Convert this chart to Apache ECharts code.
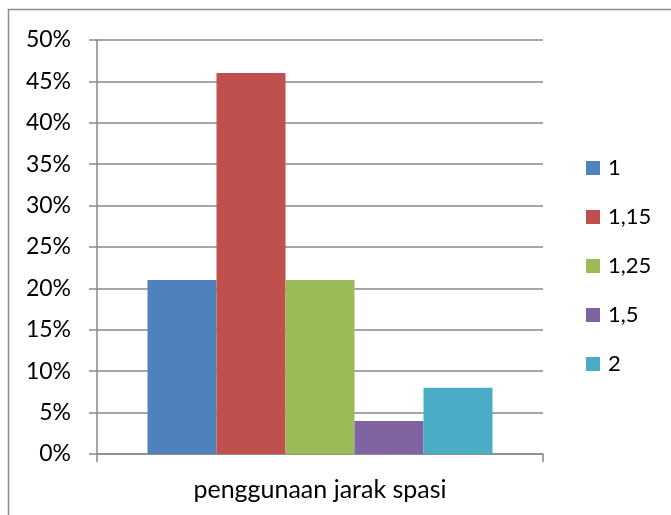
<!DOCTYPE html>
<html>
<head>
<meta charset="utf-8">
<script src="https://cdn.jsdelivr.net/npm/echarts@6/dist/echarts.min.js"></script>
<style>
  html, body { margin: 0; padding: 0; background: #fff; }
  #chart { width: 671px; height: 515px; }
</style>
</head>
<body>
<div id="chart"></div>
<script>
// Line-spacing usage survey: share of respondents per spacing setting
const categories = ['penggunaan jarak spasi'];
const seriesNames = ['1', '1,15', '1,25', '1,5', '2'];
const seriesValues = [[21], [46], [21], [4], [8]];
const seriesColors = ['#4F81BD', '#C0504D', '#9BBB59', '#8064A2', '#4BACC6'];
const yTicks = [0, 5, 10, 15, 20, 25, 30, 35, 40, 45, 50];

const FONT = 'Lato';
const axisGray = '#898989';

const chart = echarts.init(document.getElementById('chart'), null, { renderer: 'canvas' });

chart.setOption({
  animation: false,
  backgroundColor: '#fff',
  textStyle: { fontFamily: FONT },
  graphic: [{
    type: 'rect',
    shape: { x: 8.5, y: 9.5, width: 700, height: 540 },
    style: { fill: 'none', stroke: '#8c8c8c', lineWidth: 1.5 },
    silent: true
  }],
  grid: { left: 97, right: 128, top: 40, bottom: 61, containLabel: false },
  legend: {
    orient: 'vertical',
    left: 581,
    top: 152,
    itemWidth: 14,
    itemHeight: 14,
    itemGap: 27,
    icon: 'rect',
    data: seriesNames,
    textStyle: { fontFamily: FONT, fontSize: 22, color: '#000', padding: [0, 0, 0, 3] }
  },
  xAxis: {
    type: 'category',
    data: categories,
    boundaryGap: true,
    axisLine: { lineStyle: { color: axisGray, width: 1.5 } },
    axisTick: { show: true, length: 8, lineStyle: { color: axisGray, width: 1.5 } },
    axisLabel: { margin: 23, fontFamily: FONT, fontSize: 25, color: '#000' },
    splitLine: { show: false }
  },
  yAxis: {
    type: 'value',
    min: yTicks[0],
    max: yTicks[yTicks.length - 1],
    interval: 5,
    axisLine: { show: true, lineStyle: { color: axisGray, width: 1.5 } },
    axisTick: { show: true, length: 8, lineStyle: { color: axisGray, width: 1.5 } },
    axisLabel: {
      margin: 26,
      fontFamily: FONT,
      fontSize: 23,
      color: '#000',
      formatter: v => v + '%'
    },
    splitLine: { show: true, lineStyle: { color: axisGray, width: 1.5 } }
  },
  series: seriesNames.map((name, i) => ({
    name: name,
    type: 'bar',
    data: seriesValues[i],
    barWidth: 69,
    barGap: '0%',
    itemStyle: { color: seriesColors[i] }
  }))
});
</script>
</body>
</html>
